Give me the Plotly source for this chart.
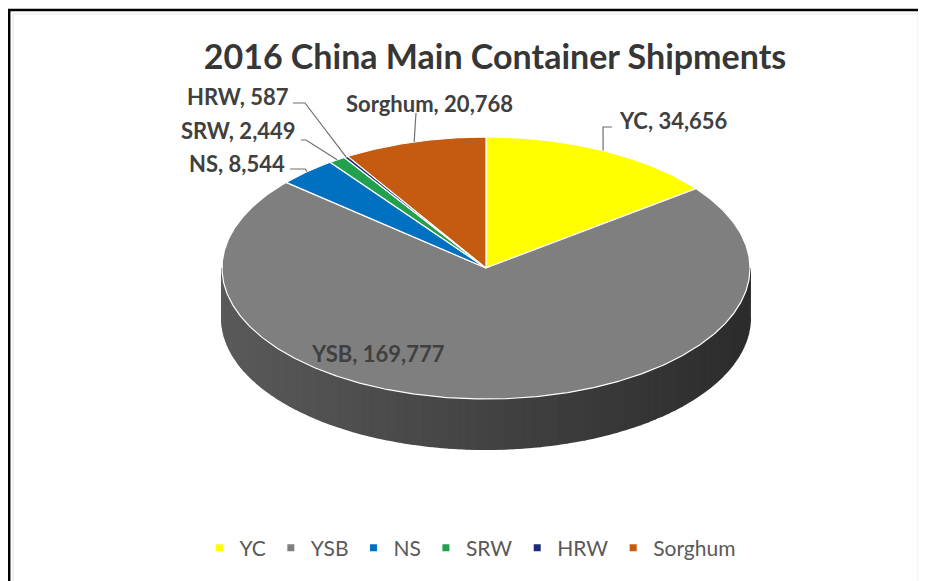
import numpy as np
import plotly.graph_objects as go

# data
categories = ["YC", "YSB", "NS", "SRW", "HRW", "Sorghum"]
shipments = [34656, 169777, 8544, 2449, 587, 20768]
slice_colors = ["#FFFF00", "#7F7F7F", "#0070C0", "#23A04E", "#1F2A7A", "#C55A11"]
title_text = "2016 China Main Container Shipments"

# page geometry (pixels); the page body adds an 8px offset
W, H, OFF = 926, 581, 8
CX, CY, RX, RY, DEPTH = 486, 268, 264, 131, 50


def px(x):
    return (x - OFF) / W


def py(y):
    return 1 - (y - OFF) / H


# label layout: text position, anchor, leader line points (before the slice anchor)
label_layout = {
    "YC": dict(x=617, y=120, xanchor="left", line=[(612, 127), (603, 127)]),
    "YSB": dict(x=378, y=353, xanchor="center", line=None),
    "NS": dict(x=287, y=163, xanchor="right", line=[(290, 169), (305, 169)]),
    "SRW": dict(x=298, y=130, xanchor="right", line=[(301, 140), (306, 140)]),
    "HRW": dict(x=291, y=96, xanchor="right", line=[(293, 103), (305, 103)]),
    "Sorghum": dict(x=429, y=103, xanchor="center", line=[(416, 113)]),
}


def ellipse(theta_deg, dy=0.0):
    t = np.radians(theta_deg)
    return CX + RX * np.sin(t), CY - RY * np.cos(t) + dy


def shade(hex_color, f):
    h = hex_color.lstrip("#")
    r, g, b = (int(h[i:i + 2], 16) for i in (0, 2, 4))
    return "rgb(%d,%d,%d)" % (r * f, g * f, b * f)


total = float(sum(shipments))
ends = np.cumsum(shipments) / total * 360.0
starts = np.concatenate([[0.0], ends[:-1]])

fig = go.Figure()

# side wall (front half of the pie, 90..270 deg), shaded strips
step = 2.0
for a in np.arange(90.0, 270.0, step):
    b = a + step
    for i in range(len(categories)):
        lo, hi = max(a, starts[i]), min(b, ends[i])
        if hi <= lo:
            continue
        th = np.linspace(lo, hi, 4)
        xt, yt = ellipse(th)
        xb, yb = ellipse(th[::-1], DEPTH)
        mid = np.radians((lo + hi) / 2)
        f = 0.53 - 0.18 * np.sin(mid)
        col = shade(slice_colors[i], f)
        fig.add_trace(go.Scatter(
            x=np.concatenate([xt, xb]), y=np.concatenate([yt, yb]),
            mode="lines", fill="toself", fillcolor=col,
            line=dict(color=col, width=2),
            hoverinfo="skip", showlegend=False,
        ))

# top face slices
for i, cat in enumerate(categories):
    th = np.linspace(starts[i], ends[i], max(int((ends[i] - starts[i]) * 2), 3))
    xs, ys = ellipse(th)
    fig.add_trace(go.Scatter(
        x=np.concatenate([[CX], xs, [CX]]), y=np.concatenate([[CY], ys, [CY]]),
        mode="lines", fill="toself", fillcolor=slice_colors[i],
        line=dict(color="white", width=1.2),
        name=cat, hovertemplate=f"{cat}: {shipments[i]:,}<extra></extra>",
        showlegend=False,
    ))

# data labels with leader lines
for i, cat in enumerate(categories):
    lay = label_layout[cat]
    fig.add_annotation(
        x=lay["x"], y=lay["y"], xref="x", yref="y",
        text=f"<b>{cat}, {shipments[i]:,}</b>", showarrow=False,
        xanchor=lay["xanchor"], yanchor="middle",
        font=dict(family="Lato", size=22, color="#404040"),
    )
    if lay["line"] is None:
        continue
    ax, ay = ellipse((starts[i] + ends[i]) / 2)
    pts = list(lay["line"]) + [(ax, ay)]
    fig.add_trace(go.Scatter(
        x=[p[0] for p in pts], y=[p[1] for p in pts], mode="lines",
        line=dict(color="#6f6f6f", width=1.2),
        hoverinfo="skip", showlegend=False,
    ))

# legend entries
for i, cat in enumerate(categories):
    fig.add_trace(go.Scatter(
        x=[None], y=[None], mode="markers", name=cat,
        marker=dict(symbol="square", size=7, color=slice_colors[i]),
    ))

fig.update_layout(
    width=W, height=H,
    margin=dict(l=0, r=0, t=0, b=0),
    paper_bgcolor="white", plot_bgcolor="white",
    title=dict(
        text=f"<b>{title_text}</b>", x=px(495), xanchor="center",
        y=py(57), yanchor="middle",
        font=dict(family="Lato", size=34, color="#363636"),
    ),
    xaxis=dict(range=[OFF, OFF + W], visible=False, fixedrange=True),
    yaxis=dict(range=[OFF + H, OFF], visible=False, fixedrange=True),
    legend=dict(
        orientation="h", x=px(470), xanchor="center", y=py(548), yanchor="middle",
        font=dict(family="Lato", size=21, color="#595959"),
        itemwidth=30, bgcolor="rgba(0,0,0,0)",
    ),
    shapes=[
        dict(type="line", xref="paper", yref="paper", x0=px(8), x1=1, y0=py(10), y1=py(10),
             line=dict(color="black", width=2.5)),
        dict(type="line", xref="paper", yref="paper", x0=px(9.2), x1=px(9.2), y0=0, y1=py(10),
             line=dict(color="black", width=2.5)),
        dict(type="rect", xref="paper", yref="paper", x0=px(13), x1=px(918), y0=-0.01, y1=py(14),
             line=dict(color="#e6e6e6", width=1)),
    ],
)

fig.write_html("out.html")
